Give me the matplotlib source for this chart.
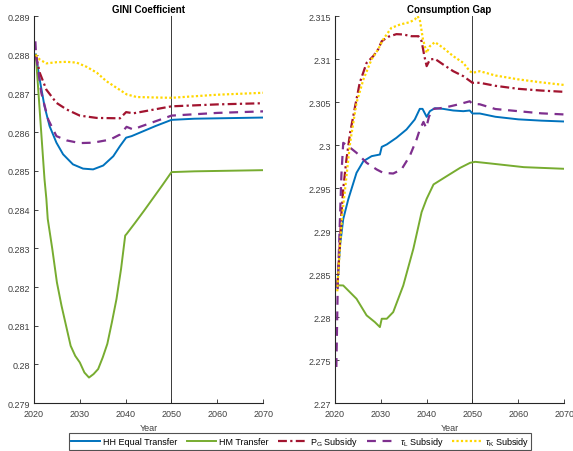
import matplotlib
matplotlib.use("Agg")
import matplotlib.pyplot as plt
from matplotlib.ticker import FuncFormatter

plt.rcParams['font.family'] = ['Liberation Sans', 'DejaVu Sans']
plt.rcParams['mathtext.fontset'] = 'custom'
plt.rcParams['mathtext.rm'] = 'Liberation Sans'
plt.rcParams['mathtext.it'] = 'Liberation Sans:italic'

# ---------------- GINI coefficient ----------------
gini_hh_years = [2020.4, 2021.25, 2022.3, 2023.4, 2024.9, 2026.35, 2028.5, 2030.7, 2032.9,
                 2035.1, 2037.3, 2038.75, 2040.1, 2041.3, 2043.1, 2046.5, 2050, 2055, 2060, 2070]
gini_hh = [0.28801, 0.28736, 0.28667, 0.28616, 0.28573, 0.28543, 0.28517, 0.28506, 0.28504,
           0.28514, 0.28538, 0.28564, 0.28586, 0.28590, 0.28599, 0.28616, 0.28632, 0.28635,
           0.28636, 0.28638]

gini_hm_years = [2020.4, 2022.3, 2022.7, 2023, 2024, 2025, 2026, 2027, 2028, 2029, 2030, 2031,
                 2032, 2033, 2034, 2035, 2036, 2037, 2038, 2039, 2039.9, 2040.2, 2042,
                 2044, 2046, 2048, 2050, 2055, 2060, 2070]
gini_hm = [0.28800, 0.28478, 0.28428, 0.28376, 0.28298, 0.28212, 0.28152, 0.28100, 0.28048,
           0.28022, 0.28005, 0.27979, 0.27966, 0.27975, 0.27988, 0.28018, 0.28053, 0.28109,
           0.28169, 0.28247, 0.28333, 0.28337, 0.28365, 0.28397, 0.28430, 0.28463, 0.28497,
           0.28499, 0.28500, 0.28502]

gini_pg_years = [2020.4, 2021.25, 2022.7, 2024.9, 2027.1, 2030, 2033.7, 2038.75, 2040.1,
                 2041.7, 2043.1, 2050, 2060, 2070]
gini_pg = [0.28800, 0.28754, 0.28710, 0.28676, 0.28659, 0.28643, 0.28637, 0.28636, 0.28652,
           0.28649, 0.28652, 0.28667, 0.28672, 0.28675]

gini_tl_years = [2020.3, 2020.45, 2021.6, 2023.1, 2024.9, 2027.1, 2030, 2032.9, 2036.6,
                 2038.75, 2040.2, 2041.7, 2043.1, 2050, 2060, 2070]
gini_tl = [0.28835, 0.28800, 0.28702, 0.28633, 0.28590, 0.28579, 0.28572, 0.28573, 0.28581,
           0.28594, 0.28614, 0.28607, 0.28614, 0.28643, 0.28650, 0.28654]

gini_tk_years = [2020.4, 2021.25, 2022.7, 2024.9, 2027.1, 2029.3, 2031.5, 2033.7, 2035.8,
                 2038, 2040.2, 2042.4, 2046, 2050, 2055, 2060, 2070]
gini_tk = [0.28800, 0.28788, 0.28778, 0.28781, 0.28782, 0.28780, 0.28769, 0.28754, 0.28732,
           0.28715, 0.28698, 0.28691, 0.28690, 0.28689, 0.28693, 0.28697, 0.28702]

# ---------------- Consumption gap ----------------
cg_hh_years = [2020.5, 2021.1, 2021.8, 2022.9, 2023.6, 2024.7, 2026.2, 2028, 2029.8, 2030.2,
               2031.3, 2033.4, 2035.6, 2037.4, 2038.5, 2039.1, 2040, 2040.7, 2041.8, 2043.6,
               2045.8, 2048, 2049.4, 2050, 2051.6, 2055, 2060, 2065, 2070]
cg_hh = [2.2835, 2.2883, 2.2914, 2.2937, 2.2949, 2.29678, 2.29814, 2.29872, 2.29891, 2.29980,
         2.30008, 2.30085, 2.30182, 2.30298, 2.30422, 2.30422, 2.30329, 2.30395, 2.30430,
         2.30422, 2.30403, 2.30395, 2.30403, 2.30368, 2.30368, 2.3033, 2.3030, 2.30285, 2.30275]

cg_hm_years = [2020.6, 2021.8, 2024.7, 2026.9, 2028.7, 2029.8, 2030.2, 2031.3, 2032.7, 2034.9,
               2037.1, 2038.9, 2040, 2041.5, 2044.4, 2047.3, 2049.5, 2050.6, 2053.9, 2061.2,
               2070]
cg_hm = [2.2837, 2.28368, 2.28213, 2.28020, 2.27942, 2.27884, 2.27981, 2.27981, 2.28058,
         2.28368, 2.28795, 2.29221, 2.29376, 2.29543, 2.29640, 2.29736, 2.29795, 2.29806,
         2.29787, 2.29744, 2.29725]

cg_pg_years = [2020.5, 2021.0, 2021.4, 2021.8, 2022.5, 2023.3, 2024.4, 2025.4, 2026.9, 2028.35,
               2029.4, 2030.2, 2031.6, 2033.4, 2034.9, 2036.7, 2038.2, 2038.9, 2039.5, 2040,
               2040.7, 2041.8, 2043.6, 2045.8, 2048, 2050, 2051.6, 2055, 2060, 2065, 2070]
cg_pg = [2.2835, 2.2880, 2.2920, 2.2949, 2.29833, 2.30143, 2.30453, 2.30725, 2.30957, 2.31035,
         2.31112, 2.31209, 2.31260, 2.31291, 2.31287, 2.31267, 2.31267, 2.31209, 2.31035,
         2.30919, 2.30996, 2.31004, 2.30938, 2.30860, 2.30802, 2.30725, 2.30725, 2.3069,
         2.30655, 2.30635, 2.3062]

cg_tl_years = [2020.3, 2020.6, 2021.0, 2021.4, 2021.8, 2022.9, 2024.7, 2026.9, 2029.1, 2030.5,
               2032.7, 2034.5, 2036.3, 2037.8, 2038.5, 2039.3, 2039.9, 2040.5, 2041.3, 2043,
               2045, 2047, 2049.4, 2050, 2051.6, 2055, 2060, 2065, 2070]
cg_tl = [2.2742, 2.2835, 2.2900, 2.2965, 2.30027, 2.29988, 2.29911, 2.29795, 2.29717, 2.29678,
         2.29670, 2.29717, 2.29872, 2.30066, 2.30180, 2.30270, 2.30200, 2.30330, 2.30420,
         2.30430, 2.30450, 2.30475, 2.30510, 2.30480, 2.30475, 2.3042, 2.30395, 2.3037,
         2.30357]

cg_tk_years = [2020.5, 2021.0, 2021.6, 2022.2, 2023.3, 2024.7, 2026.2, 2028, 2029.4, 2030.5,
               2032.3, 2034.2, 2036.3, 2037.4, 2038, 2038.5, 2039.2, 2040, 2040.7, 2041.8,
               2043.6, 2045.8, 2048, 2049.4, 2050, 2051.6, 2055, 2060, 2065, 2070]
cg_tk = [2.2830, 2.2875, 2.2920, 2.2949, 2.30027, 2.30492, 2.30764, 2.31000, 2.31112, 2.31229,
         2.31364, 2.31403, 2.31430, 2.31461, 2.31500, 2.31461, 2.31229, 2.31074, 2.31151,
         2.31198, 2.31132, 2.31035, 2.30957, 2.30860, 2.30841, 2.30860, 2.3081, 2.30765,
         2.3073, 2.3070]

labels = ['HH Equal Transfer', 'HM Transfer', r'P$_{\mathrm{G}}$ Subsidy',
          r'$\tau_{\mathrm{L}}$ Subsidy', r'$\tau_{\mathrm{K}}$ Subsidy']
colors = ['#0072BD', '#77AC30', '#A2142F', '#7E2F8E', '#FFD700']
styles = ['-', '-', (0, (4, 1.5, 1, 1.5)), (0, (4, 3)), (0, (1, 1))]
widths = [1.4, 1.4, 1.6, 1.6, 1.6]

fig = plt.figure(figsize=(5.73, 4.52), dpi=100)
ax1 = fig.add_axes([0.0593, 0.106, 0.40, 0.856])
ax2 = fig.add_axes([0.5846, 0.106, 0.40, 0.856])

gini_series = [(gini_hh_years, gini_hh), (gini_hm_years, gini_hm), (gini_pg_years, gini_pg),
               (gini_tl_years, gini_tl), (gini_tk_years, gini_tk)]
cg_series = [(cg_hh_years, cg_hh), (cg_hm_years, cg_hm), (cg_pg_years, cg_pg),
             (cg_tl_years, cg_tl), (cg_tk_years, cg_tk)]

handles = []
for ax, series in [(ax1, gini_series), (ax2, cg_series)]:
    for i, (x, y) in enumerate(series):
        h, = ax.plot(x, y, color=colors[i], linestyle=styles[i], lw=widths[i],
                     label=labels[i])
        if ax is ax1:
            handles.append(h)
    ax.axvline(2050, color='#3a3a3a', lw=0.7, zorder=0)
    ax.set_xlim(2020, 2070)
    ax.set_xticks([2020, 2030, 2040, 2050, 2060, 2070])
    for s in ['top', 'right']:
        ax.spines[s].set_visible(False)
    for s in ['left', 'bottom']:
        ax.spines[s].set_color('#262626')
        ax.spines[s].set_linewidth(0.8)
    ax.tick_params(direction='in', length=3, width=0.6, colors='#262626',
                   labelcolor='#404040', labelsize=6.5)
    ax.tick_params(axis='x', pad=4.5)
    ax.tick_params(axis='y', pad=2.5)
    ax.set_xlabel('Year', fontsize=6.5, color='#404040', labelpad=3)
    ax.yaxis.set_major_formatter(FuncFormatter(lambda v, p: ('%.4g' % v)))

ax1.set_ylim(0.279, 0.289)
ax1.set_yticks([0.279 + 0.001 * k for k in range(11)])
ax1.set_title('GINI Coefficient', fontsize=7, fontweight='bold', pad=3)

ax2.set_ylim(2.27, 2.315)
ax2.set_yticks([2.27 + 0.005 * k for k in range(10)])
ax2.set_title('Consumption Gap', fontsize=7, fontweight='bold', pad=3)

leg = fig.legend(handles=handles, labels=labels, loc='lower center',
                 bbox_to_anchor=(0.5236, 0.002), ncol=5, fontsize=6.5, frameon=True,
                 fancybox=False, edgecolor='#262626', handlelength=3.2, handletextpad=0.4,
                 columnspacing=1.0, borderpad=0.25, borderaxespad=0)
leg.get_frame().set_linewidth(0.8)

fig.savefig('out.png', dpi=100)
